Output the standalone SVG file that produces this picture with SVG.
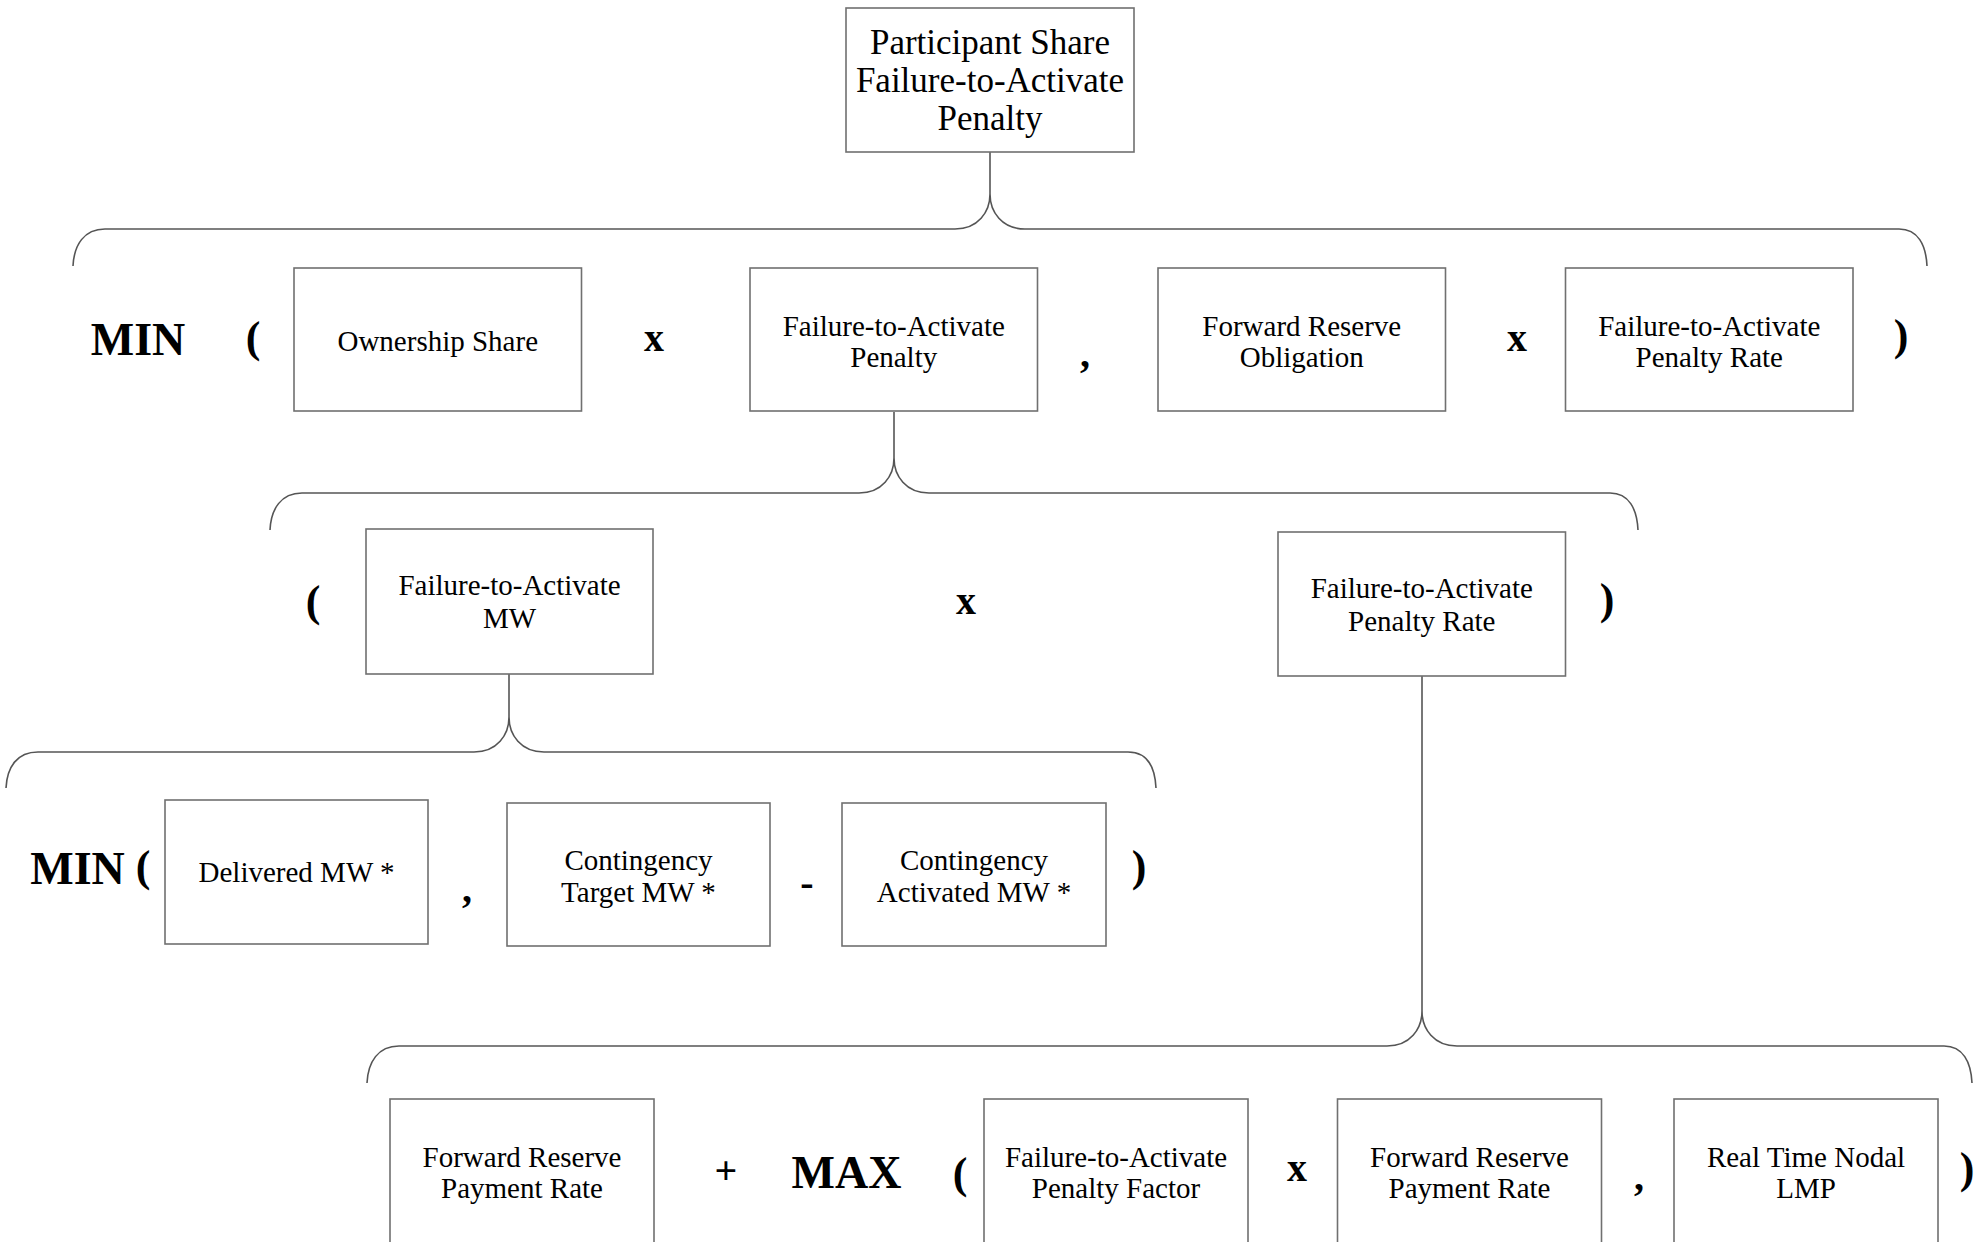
<svg xmlns="http://www.w3.org/2000/svg" width="1986" height="1242" viewBox="0 0 1986 1242">
<style>
.box{fill:#fff;stroke:#707070;stroke-width:1.6}
.t{font-family:"Liberation Serif",serif;font-size:29px;fill:#000;text-anchor:middle}
.tt{font-family:"Liberation Serif",serif;font-size:35px;fill:#000;text-anchor:middle}
.op{font-family:"Liberation Serif",serif;font-size:40px;font-weight:bold;fill:#000;text-anchor:middle}
.fn{font-family:"Liberation Serif",serif;font-size:46px;font-weight:bold;fill:#000;text-anchor:middle}
.par{font-family:"Liberation Serif",serif;font-size:44px;font-weight:bold;fill:#000;text-anchor:middle}
.br{fill:none;stroke:#555;stroke-width:1.6}
</style>
<rect width="1986" height="1242" fill="#fff"/>
<g id="connectors">
<path class="br" d="M990,152 L990,194"/>
<path class="br" d="M73,266 C74,245 84,229 105,229 L955,229 C978,229 990,212 990,194 C990,212 1002,229 1025,229 L1899,229 C1918,229 1926,245 1927,266"/>
<path class="br" d="M894,412 L894,458"/>
<path class="br" d="M270,530 C271,509 281,493 302,493 L859,493 C882,493 894,476 894,458 C894,476 906,493 929,493 L1610,493 C1629,493 1637,509 1638,530"/>
<path class="br" d="M509,674 L509,717"/>
<path class="br" d="M6,788 C7,767 17,752 38,752 L474,752 C497,752 509,735 509,717 C509,735 521,752 544,752 L1128,752 C1147,752 1155,767 1156,788"/>
<path class="br" d="M1422,676 L1422,1011"/>
<path class="br" d="M367,1083 C368,1062 378,1046 399,1046 L1387,1046 C1410,1046 1422,1029 1422,1011 C1422,1029 1434,1046 1457,1046 L1944,1046 C1963,1046 1971,1062 1972,1083"/>
</g>
<g id="n-top"><rect class="box" x="846" y="8" width="288" height="144"/>
<text class="tt" x="990" y="54">Participant Share</text><text class="tt" x="990" y="92">Failure-to-Activate</text><text class="tt" x="990" y="130">Penalty</text></g>
<g id="row1-ops">
<text class="fn" x="138" y="355">MIN</text>
<text class="par" x="253" y="352">(</text>
<text class="op" x="654" y="351">x</text>
<text class="op" x="1085" y="367">,</text>
<text class="op" x="1517" y="351">x</text>
<text class="par" x="1901" y="350">)</text>
</g>
<g id="n-ownership"><rect class="box" x="294" y="268" width="287.5" height="143"/><text class="t" x="437.75" y="351">Ownership Share</text></g>
<g id="n-ftap"><rect class="box" x="750" y="268" width="287.5" height="143"/><text class="t" x="893.75" y="335.5">Failure-to-Activate</text><text class="t" x="893.75" y="367">Penalty</text></g>
<g id="n-fro"><rect class="box" x="1158" y="268" width="287.5" height="143"/><text class="t" x="1301.75" y="335.5">Forward Reserve</text><text class="t" x="1301.75" y="367">Obligation</text></g>
<g id="n-ftapr1"><rect class="box" x="1565.5" y="268" width="287.5" height="143"/><text class="t" x="1709.25" y="335.5">Failure-to-Activate</text><text class="t" x="1709.25" y="367">Penalty Rate</text></g>
<g id="row2-ops">
<text class="par" x="313" y="616">(</text>
<text class="op" x="966" y="614">x</text>
<text class="par" x="1607" y="614">)</text>
</g>
<g id="n-ftamw"><rect class="box" x="366" y="529" width="287" height="145"/><text class="t" x="509.5" y="595">Failure-to-Activate</text><text class="t" x="509.5" y="628">MW</text></g>
<g id="n-ftapr2"><rect class="box" x="1278" y="532" width="287.5" height="144"/><text class="t" x="1421.75" y="598">Failure-to-Activate</text><text class="t" x="1421.75" y="630.5">Penalty Rate</text></g>
<g id="row3-ops">
<text class="fn" x="77.5" y="884">MIN</text>
<text class="par" x="143" y="881">(</text>
<text class="op" x="467" y="902">,</text>
<text class="op" x="807" y="896">-</text>
<text class="par" x="1139" y="881">)</text>
</g>
<g id="n-delivered"><rect class="box" x="165" y="800" width="263" height="144"/><text class="t" x="296.5" y="881.5">Delivered MW *</text></g>
<g id="n-ctmw"><rect class="box" x="507" y="803" width="263" height="143"/><text class="t" x="638.5" y="870">Contingency</text><text class="t" x="638.5" y="902">Target MW *</text></g>
<g id="n-camw"><rect class="box" x="842" y="803" width="264" height="143"/><text class="t" x="974" y="870">Contingency</text><text class="t" x="974" y="902">Activated MW *</text></g>
<g id="row4-ops">
<text class="op" x="726" y="1184">+</text>
<text class="fn" x="846.5" y="1188">MAX</text>
<text class="par" x="960" y="1188">(</text>
<text class="op" x="1297" y="1181">x</text>
<text class="op" x="1639" y="1190">,</text>
<text class="par" x="1967" y="1183">)</text>
</g>
<g id="n-frpr1"><rect class="box" x="390" y="1099" width="264" height="150"/><text class="t" x="522" y="1166.5">Forward Reserve</text><text class="t" x="522" y="1198">Payment Rate</text></g>
<g id="n-ftapf"><rect class="box" x="984" y="1099" width="264" height="150"/><text class="t" x="1116" y="1166.5">Failure-to-Activate</text><text class="t" x="1116" y="1198">Penalty Factor</text></g>
<g id="n-frpr2"><rect class="box" x="1337.5" y="1099" width="264" height="150"/><text class="t" x="1469.5" y="1166.5">Forward Reserve</text><text class="t" x="1469.5" y="1198">Payment Rate</text></g>
<g id="n-lmp"><rect class="box" x="1674" y="1099" width="264" height="150"/><text class="t" x="1806" y="1166.5">Real Time Nodal</text><text class="t" x="1806" y="1198">LMP</text></g>
</svg>
